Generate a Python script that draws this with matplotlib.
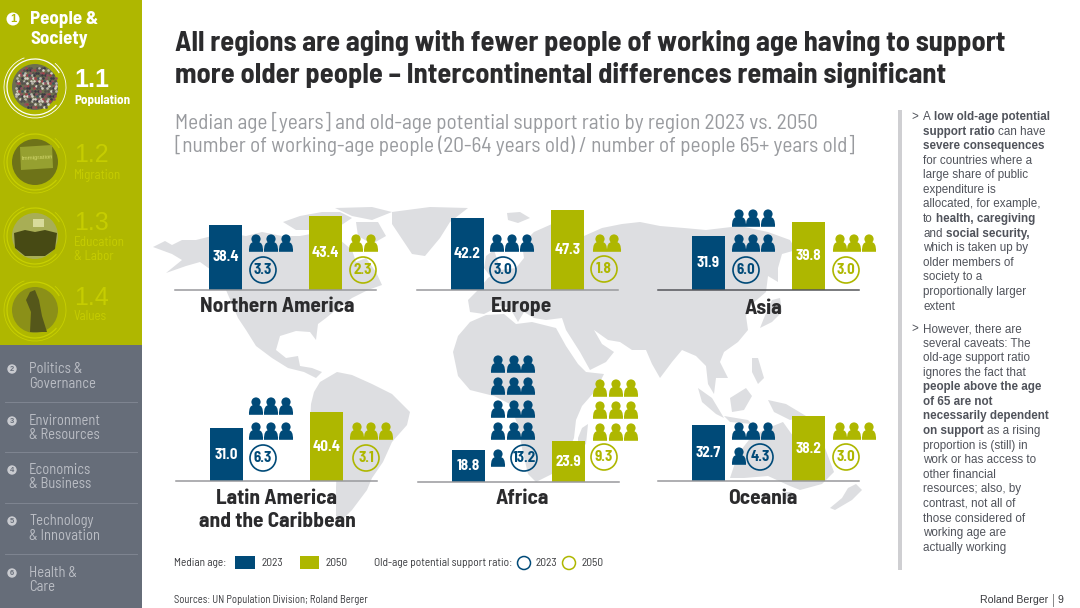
import numpy as np
import matplotlib
matplotlib.use("Agg")
import matplotlib.pyplot as plt
from matplotlib.patches import Circle, Rectangle, Polygon, PathPatch, Arc
from matplotlib.path import Path

# ---------- data ----------
regions = ["Northern America", "Europe", "Asia",
           "Latin America\nand the Caribbean", "Africa", "Oceania"]
years = ["2023", "2050"]
median_2023 = [38.4, 42.2, 31.9, 31.0, 18.8, 32.7]
median_2050 = [43.4, 47.3, 39.8, 40.4, 23.9, 38.2]
ratio_2023 = [3.3, 3.0, 6.0, 6.3, 13.2, 4.3]
ratio_2050 = [2.3, 1.8, 3.0, 3.1, 9.3, 3.0]

# ---------- layout (pixels) ----------
W, H = 1080, 608
PX_PER_YEAR = 1.7
panel_x0 = [175, 417, 658, 176, 418, 658]
panel_base = [290, 290, 290, 481, 482, 481]
label_xy = [(277, 307), (522, 306), (763, 308), (277, 510), (522, 499), (763, 498)]
icons_2023 = [((256, 271, 286), (243,)), ((497, 512, 527), (243,)),
              ((739, 753, 768), (218, 243)), ((256, 271, 286), (406, 431)),
              ((498, 514, 528), (364, 386, 409, 431, 458)), ((739, 753, 768), (431, 456))]
icons_2050 = [((356, 371, 386), (243,)), ((600, 614, 629), (243,)),
              ((840, 854, 869), (243,)), ((357, 371, 386), (431,)),
              ((600, 616, 631), (388, 410, 432)), ((840, 854, 869), (431,))]
ring_2023 = [(263, 270), (503, 270), (746, 270), (263, 458), (524, 458), (760, 457)]
ring_2050 = [(363, 270), (604, 269), (846, 270), (366, 458), (604, 457), (846, 457)]

BLUE = "#004A78"
GREEN = "#AEB700"
SIDE_GREEN = "#AFB700"
SIDE_GRAY = "#666D79"
MAP = "#DDDEE1"
DARK = "#2B2B2D"
NARROW = ["Barlow Semi Condensed", "Liberation Sans", "DejaVu Sans"]
SANS = ["Liberation Sans", "DejaVu Sans"]


def fs(px):
    return px * 0.72


fig = plt.figure(figsize=(W / 100, H / 100), dpi=100, facecolor="white")
bg = fig.add_axes([0, 0, 1, 1], zorder=0)
bg.set_xlim(0, W)
bg.set_ylim(H, 0)
bg.axis("off")
top = fig.add_axes([0, 0, 1, 1], zorder=3)
top.set_xlim(0, W)
top.set_ylim(H, 0)
top.axis("off")
top.patch.set_alpha(0)

# ---------- map backdrop ----------
land = [
    # North America
    [(153, 247), (165, 241), (172, 245), (182, 240), (196, 240), (212, 236), (228, 233), (246, 236),
     (262, 232), (282, 236), (300, 236), (322, 232), (340, 240), (352, 250), (356, 262), (366, 258),
     (376, 272), (382, 285), (368, 290), (352, 298), (338, 308), (326, 318), (318, 324), (316, 340),
     (310, 332), (296, 331), (280, 336), (276, 350), (286, 358), (298, 356), (300, 366), (312, 368),
     (322, 372), (316, 378), (304, 372), (288, 368), (272, 358), (256, 346), (246, 330), (238, 318),
     (232, 304), (226, 290), (214, 272), (200, 262), (186, 266), (166, 273), (182, 260), (172, 254)],
    # arctic islands
    [(283, 222), (300, 216), (322, 212), (340, 212), (352, 218), (340, 226), (318, 230), (296, 230)],
    [(335, 208), (372, 207), (392, 212), (372, 220), (352, 216)],
    [(356, 222), (378, 222), (386, 236), (372, 244), (358, 236)],
    # Greenland
    [(392, 212), (430, 207), (468, 208), (450, 222), (440, 238), (425, 256), (412, 254), (400, 236), (392, 224)],
    # Iceland
    [(507, 213), (520, 212), (530, 218), (518, 223), (508, 220)],
    # UK
    [(486, 256), (494, 250), (498, 262), (502, 272), (490, 276), (484, 268)],
    # South America
    [(320, 382), (337, 372), (352, 375), (372, 384), (392, 394), (410, 412), (407, 425), (392, 442),
     (383, 462), (372, 478), (367, 490), (352, 510), (342, 520), (336, 516), (336, 488), (337, 462),
     (322, 446), (310, 424), (311, 404), (314, 392)],
    # Eurasia
    [(468, 300), (478, 290), (488, 278), (500, 270), (516, 268), (524, 258), (522, 244), (534, 232),
     (552, 224), (566, 232), (556, 244), (570, 252), (584, 236), (602, 228), (622, 224), (640, 222),
     (660, 226), (684, 228), (706, 230), (740, 226), (768, 232), (790, 240), (796, 250), (782, 254),
     (778, 268), (778, 282), (768, 276), (766, 292), (752, 304), (746, 316), (748, 330), (738, 342),
     (724, 352), (720, 362), (728, 378), (716, 378), (714, 394), (708, 384), (706, 366), (696, 356),
     (682, 350), (672, 362), (660, 378), (652, 364), (646, 350), (632, 350), (620, 342), (608, 340),
     (594, 330), (602, 344), (614, 352), (606, 362), (590, 370), (580, 352), (566, 330), (562, 318),
     (546, 320), (534, 318), (524, 312), (518, 322), (510, 308), (500, 306), (484, 314), (470, 312)],
    # Africa
    [(453, 352), (458, 336), (470, 322), (486, 315), (504, 314), (516, 324), (532, 322), (556, 328),
     (566, 346), (578, 364), (586, 372), (604, 374), (596, 390), (582, 406), (576, 420), (574, 438),
     (566, 456), (556, 472), (536, 482), (528, 474), (522, 448), (518, 426), (510, 404), (494, 396),
     (470, 390), (458, 376)],
    # Madagascar
    [(582, 428), (588, 424), (586, 444), (578, 450), (578, 438)],
    # Japan
    [(772, 300), (780, 298), (782, 312), (772, 322), (760, 328), (764, 318)],
    # Philippines, Sumatra, Borneo, Java, New Guinea
    [(752, 358), (758, 358), (764, 378), (758, 384), (752, 372)],
    [(698, 388), (712, 398), (724, 418), (716, 414), (702, 402)],
    [(730, 398), (746, 388), (752, 396), (744, 410), (732, 412)],
    [(724, 416), (748, 420), (752, 424), (730, 422)],
    [(768, 400), (786, 404), (806, 416), (790, 420), (774, 412)],
    # Australia
    [(730, 478), (738, 454), (752, 436), (768, 428), (783, 422), (793, 436), (806, 430), (825, 448),
     (834, 472), (822, 484), (800, 490), (790, 486), (768, 476), (744, 478)],
    # Tasmania and New Zealand
    [(782, 492), (792, 492), (790, 500), (784, 498)],
    [(848, 488), (856, 484), (862, 490), (852, 500), (835, 510), (830, 508), (842, 498)],
]
for poly in land:
    bg.add_patch(Polygon(poly, closed=True, fc=MAP, ec="none", zorder=1))

# ---------- left navigation ----------
bg.add_patch(Rectangle((0, 0), 142, 345, fc=SIDE_GREEN, ec="none", zorder=2))
bg.add_patch(Rectangle((0, 345), 142, H - 345, fc=SIDE_GRAY, ec="none", zorder=2))
top.add_patch(Circle((13, 19), 6.5, fc="white", ec="none"))
top.text(13, 19.5, "1", color=SIDE_GREEN, fontsize=fs(11), fontweight="bold", family=SANS, ha="center", va="center")
top.text(30, 20, "People &", color="white", fontsize=fs(19), fontweight="bold", family=NARROW, va="center")
top.text(30, 39, "Society", color="white", fontsize=fs(19), fontweight="bold", family=NARROW, va="center")


def rings(cy, col, cx=35):
    top.add_patch(Arc((cx, cy), 62, 62, theta1=-50, theta2=250, ec=col, lw=0.6))
    top.add_patch(Arc((cx, cy), 56, 56, theta1=40, theta2=330, ec=col, lw=0.9))


# 1.1 crowd
rings(87, "white")
top.add_patch(Circle((35, 87), 23, fc="#6C6F50", ec="none"))
pal = ["#3D3A44", "#8E5060", "#B9B6AE", "#55504F", "#A5404A", "#D6D2C8", "#3E5560"]
k = 0
for yy in np.arange(65, 110, 2.6):
    for xx in np.arange(13, 58, 2.6):
        if (xx - 35) ** 2 + (yy - 87) ** 2 < 22 ** 2 and (k % 11) != 4:
            top.plot(xx + (yy * 0.3 % 2), yy, "o", ms=1.9, mec="none", color=pal[(k * k + k // 3) % 7])
        k += 1
# 1.2 screen
rings(162, "#C8D000")
top.add_patch(Circle((35, 162), 23, fc="#6E7318", ec="none"))
top.add_patch(Polygon([(20, 147), (52, 145), (53, 168), (21, 170)], fc="#96A030", ec="none"))
top.text(37, 158, "Immigration", color="#D5DA70", fontsize=fs(6), family=SANS, ha="center", va="center", rotation=3)
# 1.3 lecture hall
rings(236, "#C8D000")
top.add_patch(Circle((35, 236), 23, fc="#A8AE55", ec="none"))
top.add_patch(Rectangle((33, 219), 11, 8, fc="#D8DB9A", ec="none"))
body = [(14, 233), (25, 230), (35, 232), (45, 230), (57, 233), (55, 249), (45, 256), (25, 256), (15, 248)]
top.add_patch(Polygon(body, fc="#474A14", ec="none"))
# 1.4 statue
rings(310, "#C8D000")
top.add_patch(Circle((35, 310), 23, fc="#8B9018", ec="none"))
top.add_patch(Polygon([(30, 292), (35, 290), (39, 300), (42, 316), (47, 332), (30, 332), (31, 312), (26, 300)],
                      fc="#55571A", ec="none"))

sub_col = "#C6CD00"
subs = [("1.2", 155, [("Migration", 175)]), ("1.3", 223, [("Education", 243), ("& Labor", 256)]),
        ("1.4", 298, [("Values", 317)])]
top.text(74, 80, "1.1", color="white", fontsize=fs(25), fontweight="bold", family=SANS, va="center")
top.text(74, 101, "Population", color="white", fontsize=fs(13), fontweight="bold", family=NARROW, va="center")
for num, y, labs in subs:
    top.text(74, y, num, color=sub_col, fontsize=fs(25), family=SANS, va="center")
    for t, yy in labs:
        top.text(74, yy, t, color=sub_col, fontsize=fs(13), family=NARROW, va="center")

nav = [("2", "Politics &", "Governance", 369, 384), ("3", "Environment", "& Resources", 421, 435),
       ("4", "Economics", "& Business", 470, 484), ("5", "Technology", "& Innovation", 521, 536),
       ("6", "Health &", "Care", 573, 587)]
for n, a, b, y1, y2 in nav:
    top.add_patch(Circle((12, y1), 4.7, fc="#C9CBD0", ec="none"))
    top.text(12, y1 + 0.3, n, color=SIDE_GRAY, fontsize=fs(7.5), fontweight="bold", family=SANS, ha="center", va="center")
    top.text(29, y1, a, color="#BBBEC5", fontsize=fs(14.5), family=NARROW, va="center")
    top.text(29, y2, b, color="#BBBEC5", fontsize=fs(14.5), family=NARROW, va="center")
for y in (402, 452, 503, 554):
    top.plot([5, 137], [y, y], color="#7F8591", lw=0.7)

# ---------- headline ----------
top.text(175, 43.5, "All regions are aging with fewer people of working age having to support",
         fontsize=fs(28.5), fontweight="bold", family=NARROW, color=DARK, va="center")
top.text(175, 74.5, "more older people \u2013 Intercontinental differences remain significant",
         fontsize=fs(28.5), fontweight="bold", family=NARROW, color=DARK, va="center")
top.text(175, 122, "Median age [years] and old-age potential support ratio by region 2023 vs. 2050",
         fontsize=fs(21.35), family=NARROW, color="#999B9F", va="center")
top.text(175, 145, "[number of working-age people (20-64 years old) / number of people 65+ years old]",
         fontsize=fs(21.35), family=NARROW, color="#999B9F", va="center")


# ---------- person icon ----------
def person(x, y, col):
    s = [(x - 7, y + 8.8), (x - 7.2, y + 2), (x - 5.5, y - 0.5), (x - 2.5, y - 1), (x - 2.5, y - 1), (x + 2.5, y - 1),
         (x + 5.5, y - 0.5), (x + 7.2, y + 2), (x + 7, y + 8.8), (x + 7, y + 8.8), (x - 7, y + 8.8)]
    c = [Path.MOVETO, Path.CURVE4, Path.CURVE4, Path.CURVE4, Path.LINETO, Path.LINETO,
         Path.CURVE4, Path.CURVE4, Path.CURVE4, Path.LINETO, Path.CLOSEPOLY]
    top.add_patch(PathPatch(Path(s, c), fc=col, ec="none"))
    top.add_patch(Circle((x, y - 4), 4.6, fc=col, ec="none"))


# ---------- panels ----------
PANEL_PX_W = 201
PANEL_PX_H = 100
for i, name in enumerate(regions):
    ax = fig.add_axes([panel_x0[i] / W, 1 - panel_base[i] / H, PANEL_PX_W / W, PANEL_PX_H / H], zorder=2)
    ax.patch.set_alpha(0)
    vals = [median_2023[i], median_2050[i]]
    ax.bar([0, 1], vals, width=0.335, color=[BLUE, GREEN])
    ax.set_xlim(-0.505, 1.505)
    ax.set_ylim(0, PANEL_PX_H / PX_PER_YEAR)
    ax.set_xticks([])
    ax.set_yticks([])
    for sp in ("top", "left", "right"):
        ax.spines[sp].set_visible(False)
    ax.spines["bottom"].set_color("#55565A" if name == "Asia" else "#98999C")
    ax.spines["bottom"].set_linewidth(1.1)
    for j, v in enumerate(vals):
        ax.text(j, v / 2, f"{v:.1f}", color="white", fontsize=fs(15), fontweight="bold",
                family=NARROW, ha="center", va="center")
    lx, ly = label_xy[i]
    top.text(lx, ly, name, fontsize=fs(21.4), fontweight="bold", family=NARROW, color=DARK,
             ha="center", va="center", linespacing=1.22)

    for ratio, grid, ring, col in ((ratio_2023[i], icons_2023[i], ring_2023[i], BLUE),
                                   (ratio_2050[i], icons_2050[i], ring_2050[i], GREEN)):
        xs, ys = grid
        n = int(round(ratio))
        for k in range(n):
            person(xs[k % 3], ys[k // 3], col)
        top.add_patch(Circle(ring, 13, fc="none", ec=col, lw=1.2))
        top.text(ring[0], ring[1] + 0.3, f"{ratio:.1f}", color=col, fontsize=fs(15), fontweight="bold",
                 family=NARROW, ha="center", va="center")

# ---------- legend ----------
leg_col = "#3A3B3F"
LEG = fs(11.4)
top.text(174, 563, "Median age:", fontsize=LEG, family=NARROW, color=leg_col, va="center")
top.add_patch(Rectangle((235, 556), 20, 13, fc=BLUE, ec="none"))
top.text(262, 563, years[0], fontsize=LEG, family=NARROW, color=leg_col, va="center")
top.add_patch(Rectangle((300, 556), 19, 13, fc=GREEN, ec="none"))
top.text(326, 563, years[1], fontsize=LEG, family=NARROW, color=leg_col, va="center")
top.text(374, 563, "Old-age potential support ratio:", fontsize=LEG, family=NARROW, color=leg_col, va="center")
top.add_patch(Circle((524, 563), 6.5, fc="none", ec=BLUE, lw=1.1))
top.text(535, 563, years[0], fontsize=LEG, family=NARROW, color=leg_col, va="center")
top.add_patch(Circle((569, 563), 6.5, fc="none", ec=GREEN, lw=1.1))
top.text(581, 563, years[1], fontsize=LEG, family=NARROW, color=leg_col, va="center")

top.text(174, 600, "Sources: UN Population Division; Roland Berger", fontsize=fs(10.6), family=NARROW, color=leg_col, va="center")
top.text(1048, 600, "Roland Berger", fontsize=fs(10.5), family=SANS, color=leg_col, va="center", ha="right")
top.plot([1052.5, 1052.5], [594, 606], color="#888888", lw=0.7)
top.text(1060, 600, "9", fontsize=fs(10.5), family=SANS, color=leg_col, va="center", ha="center")

# ---------- commentary ----------
bg.add_patch(Rectangle((898, 110), 3.5, 460, fc="#CFCFD2", ec="none", zorder=2))
para1 = [[("A ", 0), ("low old-age potential", 1)], [("support ratio", 1), (" can have", 0)],
         [("severe consequences", 1)], [("for countries where a", 0)], [("large share of public", 0)],
         [("expenditure is", 0)], [("allocated, for example,", 0)], [("to ", 0), ("health, caregiving", 1)],
         [("and ", 0), ("social security,", 1)], [("which is taken up by", 0)], [("older members of", 0)],
         [("society to a", 0)], [("proportionally larger", 0)], [("extent", 0)]]
para2 = [[("However, there are", 0)], [("several caveats: The", 0)], [("old-age support ratio", 0)],
         [("ignores the fact that", 0)], [("people above the age", 1)], [("of 65 are not", 1)],
         [("necessarily dependent", 1)], [("on support", 1), (" as a rising", 0)], [("proportion is (still) in", 0)],
         [("work or has access to", 0)], [("other financial", 0)], [("resources; also, by", 0)],
         [("contrast, not all of", 0)], [("those considered of", 0)], [("working age are", 0)],
         [("actually working", 0)]]
renderer = fig.canvas.get_renderer()
BODY = "#50535B"
BODY_PX = 11.6
SPACE = BODY_PX * 0.278


def runs(x, y, parts):
    for text, bold in parts:
        lead = len(text) - len(text.lstrip(" "))
        trail = len(text) - len(text.rstrip(" "))
        x += lead * SPACE
        t = top.text(x, y, text.strip(" "), fontsize=fs(BODY_PX), fontweight="bold" if bold else "normal",
                     family=SANS, color=BODY, va="center")
        x += t.get_window_extent(renderer).width + trail * SPACE


for start, para in ((117, para1), (329, para2)):
    top.text(911, start, ">", fontsize=fs(BODY_PX), family=SANS, color=BODY, va="center")
    for n, parts in enumerate(para):
        runs(923, start + n * 14.58, parts)

fig.savefig("out.png", dpi=100, facecolor="white")
